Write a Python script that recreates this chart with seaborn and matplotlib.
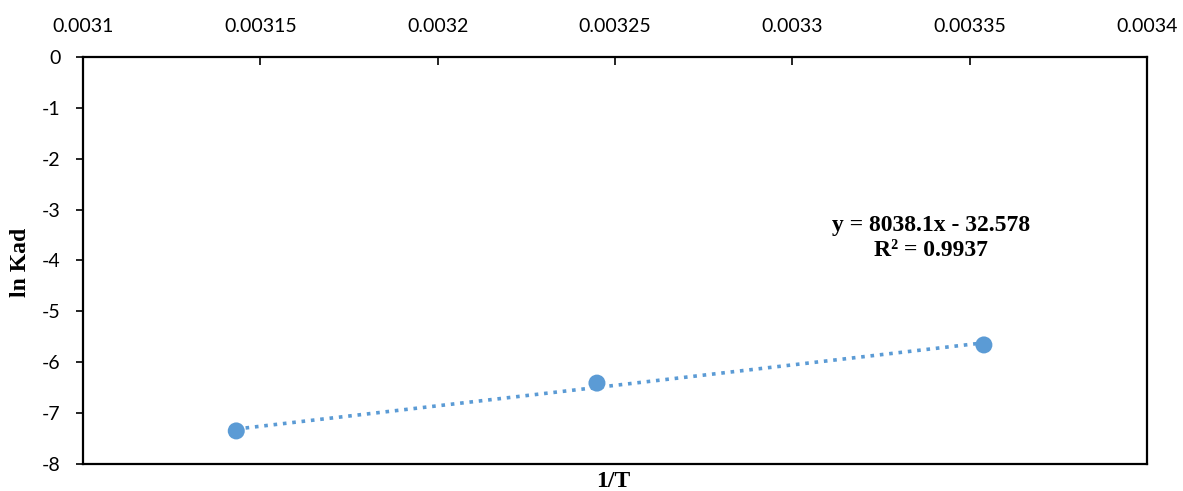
import numpy as np
import matplotlib
matplotlib.use("Agg")
import matplotlib.pyplot as plt
import seaborn as sns

# data
inv_T = [0.0031432, 0.0032449, 0.0033540]
ln_kad = [-7.35, -6.41, -5.66]
slope = 8038.1
intercept = -32.578
r_squared = 0.9937
x_ticks = [0.0031, 0.00315, 0.0032, 0.00325, 0.0033, 0.00335, 0.0034]
x_tick_labels = ["0.0031", "0.00315", "0.0032", "0.00325", "0.0033", "0.00335", "0.0034"]
y_ticks = [0, -1, -2, -3, -4, -5, -6, -7, -8]

sns.set_theme(style="white")
plt.rcParams["font.family"] = ["Lato", "DejaVu Sans"]

fig = plt.figure(figsize=(11.83, 4.91), dpi=100)
ax = fig.add_axes([0.0702, 0.055, 0.8994, 0.829])

color = "#5B9BD5"

# trendline (dotted) over the data range
xs = np.array([min(inv_T), max(inv_T)])
ax.plot(xs, slope * xs + intercept, linestyle=(0, (1, 1.6)), color=color, linewidth=2.6, zorder=2)

sns.scatterplot(x=inv_T, y=ln_kad, ax=ax, color=color, s=150, edgecolor="none", zorder=3)

ax.set_xlim(0.0031, 0.0034)
ax.set_ylim(-8, 0)
ax.set_xticks(x_ticks)
ax.set_xticklabels(x_tick_labels)
ax.set_yticks(y_ticks)
ax.set_yticklabels([str(v) for v in y_ticks])

ax.xaxis.tick_top()
ax.tick_params(axis="x", which="both", direction="in", length=6, width=1.2,
               labelsize=14, pad=16, top=True, bottom=False, colors="black")
ax.tick_params(axis="y", direction="out", length=5, width=1.2,
               labelsize=14, pad=11, left=True, colors="black")
for lab in ax.get_xticklabels() + ax.get_yticklabels():
    lab.set_color("black")

for sp in ax.spines.values():
    sp.set_color("black")
    sp.set_linewidth(1.6)

serif = ["Liberation Serif", "DejaVu Serif"]
fig.text(0.518, 0.02, "1/T", ha="center", va="center", fontsize=17,
         fontweight="bold", family=serif, color="black")
fig.text(0.017, 0.466, "ln Kad", ha="center", va="center", rotation=90,
         fontsize=17, fontweight="bold", family=serif, color="black")

ax.text(0.003339, -3.56,
        f"y = {slope}x - {abs(intercept)}\nR² = {r_squared}",
        ha="center", va="center", fontsize=17, fontweight="bold",
        family=serif, linespacing=1.2, color="black")

fig.savefig("out.png", dpi=100)
